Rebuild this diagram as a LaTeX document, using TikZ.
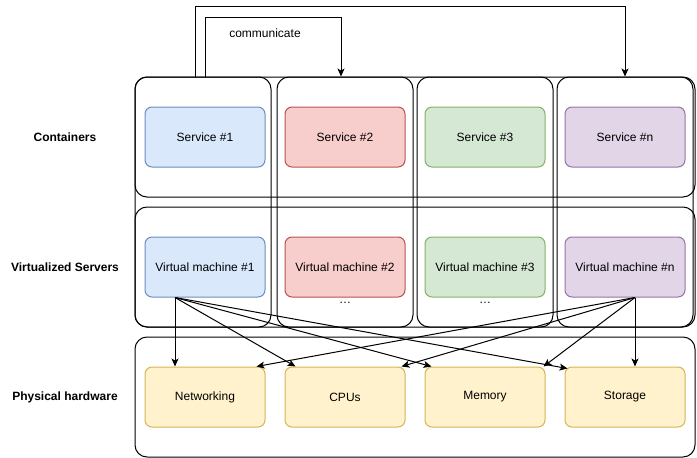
\documentclass[tikz,border=0pt]{standalone}
\usepackage{fontspec}
\setmainfont{Liberation Sans}
\usetikzlibrary{arrows.meta}
\definecolor{blueF}{HTML}{DAE8FC}\definecolor{blueD}{HTML}{6C8EBF}
\definecolor{redF}{HTML}{F8CECC}\definecolor{redD}{HTML}{B85450}
\definecolor{greenF}{HTML}{D5E8D4}\definecolor{greenD}{HTML}{82B366}
\definecolor{purpleF}{HTML}{E1D5E7}\definecolor{purpleD}{HTML}{9673A6}
\definecolor{yellowF}{HTML}{FFF2CC}\definecolor{yellowD}{HTML}{D6B656}
\tikzset{
	layer/.style={draw, rounded corners=12pt, line width=1pt, minimum width=560pt, minimum height=120pt, inner sep=0pt},
	column/.style={draw, rounded corners=12pt, line width=1pt, minimum width=136pt, minimum height=250pt, inner sep=0pt},
	box/.style={draw, rounded corners=7pt, line width=1pt, minimum width=120pt, minimum height=60pt, inner sep=0pt, font=\fontsize{12}{14}\selectfont},
	tag/.style={font=\bfseries\fontsize{12}{14}\selectfont},
	link/.style={line width=1pt, -{Stealth[length=8pt, width=7pt, inset=2pt]}}
}
\begin{document}
\begin{tikzpicture}[x=1pt, y=-1pt]
	\useasboundingbox (0,0) rectangle (697,458);
	\node[layer] (rowC) at (415,137) {};
	\node[layer] (rowV) at (415,267) {};
	\node[layer] (rowP) at (415,397) {};
	\node[column] (col1) at (203,202) {};
	\node[column] (col2) at (345,202) {};
	\node[column] (col3) at (485,202) {};
	\node[column] (col4) at (625,202) {};
	
	\node[tag] (tC) at (65,137) {Containers};
	\node[tag] (tV) at (65,267) {Virtualized Servers};
	\node[tag] (tP) at (65,397) {Physical hardware};
	
	\node[box, fill=blueF, draw=blueD] (svc1) at (205,137) {Service \#1};
	\node[box, fill=redF, draw=redD] (svc2) at (345,137) {Service \#2};
	\node[box, fill=greenF, draw=greenD] (svc3) at (485,137) {Service \#3};
	\node[box, fill=purpleF, draw=purpleD] (svcn) at (625,137) {Service \#n};
	
	\node[box, fill=blueF, draw=blueD] (vm1) at (205,267) {Virtual machine \#1};
	\node[box, fill=redF, draw=redD] (vm2) at (345,267) {Virtual machine \#2};
	\node[box, fill=greenF, draw=greenD] (vm3) at (485,267) {Virtual machine \#3};
	\node[box, fill=purpleF, draw=purpleD] (vmn) at (625,267) {Virtual machine \#n};
	\node[font=\fontsize{12}{14}\selectfont] (dots2) at (345,303) {\dots};
	\node[font=\fontsize{12}{14}\selectfont] (dots3) at (485,303) {\dots};
	
	\node[box, fill=yellowF, draw=yellowD] (net) at (205,397) {Networking};
	\node[box, fill=yellowF, draw=yellowD] (cpu) at (345,397) {CPUs};
	\node[box, fill=yellowF, draw=yellowD] (mem) at (485,397) {Memory};
	\node[box, fill=yellowF, draw=yellowD] (sto) at (625,397) {Storage};
	
	\draw[link] ([xshift=-8pt]col1.north) -- ++(0,-70) -| (col4.north);
	\draw[link] ([xshift=2pt]col1.north) -- ++(0,-59) -| ([xshift=-4pt]col2.north);
	\node[font=\fontsize{12}{14}\selectfont] (comm) at (265,33) {communicate};
	
	\draw[link] ([xshift=-30pt]vm1.south) -- ([xshift=-30pt]net.north);
	\draw[link] ([xshift=-30pt]vm1.south) -- ([xshift=11pt]cpu.north west);
	\draw[link] ([xshift=-30pt]vm1.south) -- ([xshift=7pt]mem.north west);
	\draw[link] ([xshift=-30pt]vm1.south) -- ([xshift=3pt, yshift=-2pt]sto.north west);
	\draw[link] ([xshift=10pt]vmn.south) -- ([xshift=10pt]sto.north);
	\draw[link] ([xshift=10pt]vmn.south) -- ([xshift=-2pt]mem.north east);
	\draw[link] ([xshift=10pt]vmn.south) -- ([xshift=-4pt]cpu.north east);
	\draw[link] ([xshift=10pt]vmn.south) -- ([xshift=-9pt]net.north east);
\end{tikzpicture}
\end{document}
